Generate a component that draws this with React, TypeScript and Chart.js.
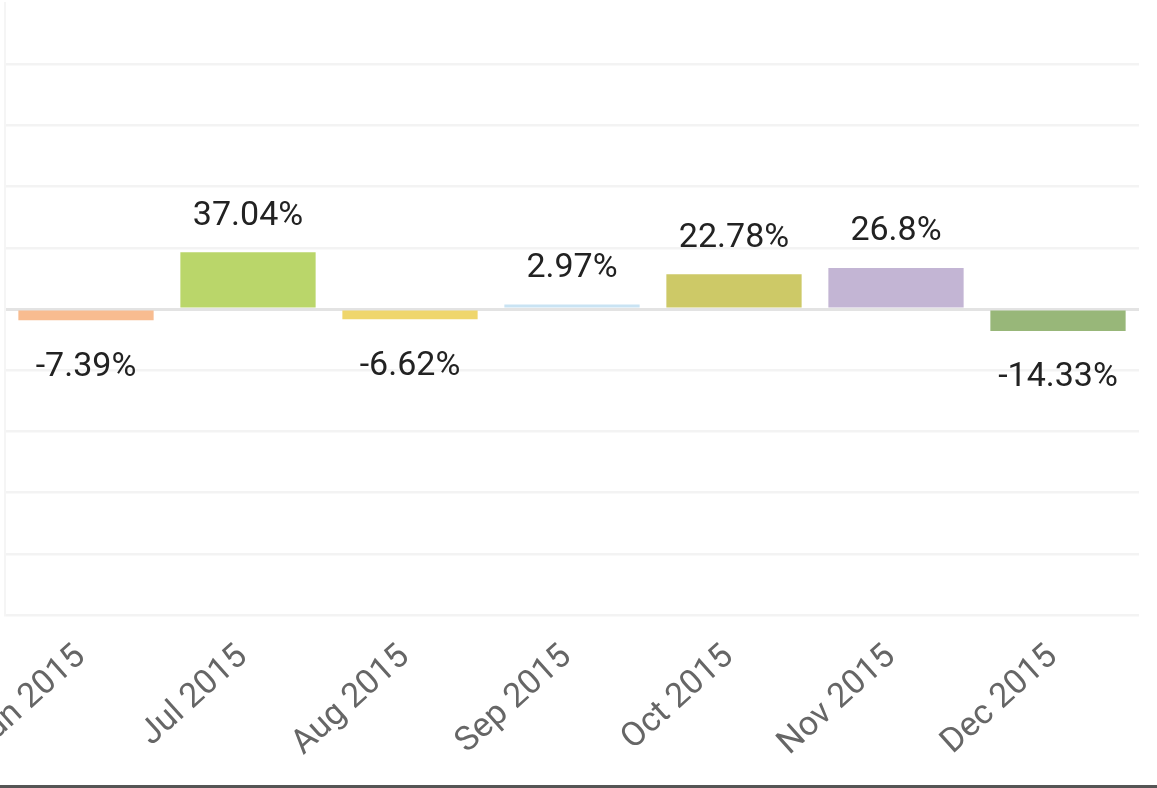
import React, { useEffect, useRef } from "react";
import { Chart, registerables } from "chart.js";

Chart.register(...registerables);

// Monthly returns, June–December 2015
const months = ["Jun 2015", "Jul 2015", "Aug 2015", "Sep 2015", "Oct 2015", "Nov 2015", "Dec 2015"];
const returns = [-7.39, 37.04, -6.62, 2.97, 22.78, 26.8, -14.33];
const barColors = ["#f8bc90", "#bad66a", "#efd66c", "#c9e3f3", "#cdc967", "#c3b5d4", "#98b779"];

const yMin = -200;
const yMax = 200;
const yStep = 40;

// Writes each bar's percentage above (positive) or below (negative) the bar
const valueLabels = {
  id: "valueLabels",
  afterDatasetsDraw(chart: any) {
    const ctx = chart.ctx;
    const meta = chart.getDatasetMeta(0);
    ctx.save();
    ctx.font = "34px Roboto";
    ctx.fillStyle = "#222";
    ctx.textAlign = "center";
    ctx.textBaseline = "middle";
    meta.data.forEach((bar: any, i: number) => {
      const v = returns[i];
      const y = v >= 0 ? bar.y - 36 : bar.y + 47;
      ctx.fillText(`${v}%`, bar.x, y);
    });
    ctx.restore();
  },
};

export default function App() {
  const canvasRef = useRef<HTMLCanvasElement | null>(null);

  useEffect(() => {
    document.body.style.margin = "0";
    const chart = new Chart(canvasRef.current!, {
      type: "bar",
      data: {
        labels: months,
        datasets: [
          {
            data: returns,
            backgroundColor: barColors,
            borderWidth: 0,
            barPercentage: 0.835,
            categoryPercentage: 1,
          },
        ],
      },
      options: {
        animation: false,
        responsive: false,
        maintainAspectRatio: false,
        layout: { padding: { left: 5, right: 18, top: 3, bottom: 0 } },
        plugins: { legend: { display: false }, tooltip: { enabled: false } },
        scales: {
          x: {
            grid: { display: false, drawTicks: false },
            border: { display: false },
            ticks: {
              color: "#666",
              font: { family: "Roboto", size: 34 },
              minRotation: 42,
              maxRotation: 42,
              padding: 22,
              labelOffset: -5,
              autoSkip: false,
            },
            afterFit(scale: any) {
              scale.paddingLeft = 0;
              scale.paddingRight = 0;
              scale.height = 170;
            },
          },
          y: {
            min: yMin,
            max: yMax,
            ticks: { display: false, stepSize: yStep },
            grid: {
              drawTicks: false,
              color: (c: any) => {
                const v = c.tick ? c.tick.value : null;
                if (v === yMax) return "rgba(0,0,0,0)";
                return v === 0 ? "#e3e3e3" : "#f3f3f3";
              },
              lineWidth: (c: any) => (c.tick && c.tick.value === 0 ? 3 : 2.5),
            },
            border: { display: true, color: "#f5f5f5", width: 2 },
            afterFit(scale: any) {
              scale.width = 0;
            },
          },
        },
      },
      plugins: [valueLabels],
    });
    return () => chart.destroy();
  }, []);

  return (
    <div style={{ width: 1157, height: 788, position: "relative", background: "#fff", overflow: "hidden" }}>
      <canvas ref={canvasRef} width={1157} height={785} style={{ display: "block" }} />
      <div style={{ position: "absolute", left: 0, bottom: 0, width: 1157, height: 3, background: "#555" }} />
    </div>
  );
}
